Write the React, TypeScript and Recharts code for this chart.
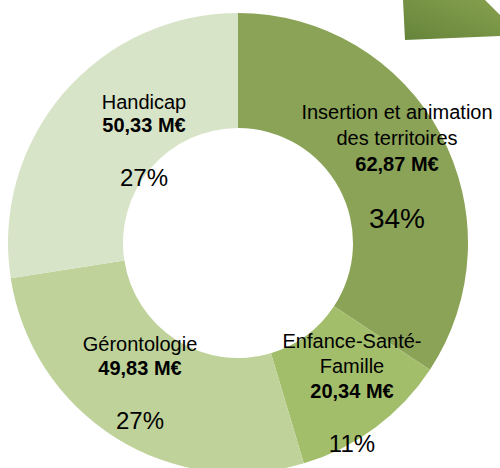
import React from "react";
import { PieChart, Pie, Cell, Customized } from "recharts";

// budget par domaine (M€)
const categories = [
  "Insertion et animation des territoires",
  "Enfance-Santé-Famille",
  "Gérontologie",
  "Handicap",
];
const nameLines = [
  ["Insertion et animation", "des territoires"],
  ["Enfance-Santé-", "Famille"],
  ["Gérontologie"],
  ["Handicap"],
];
const amounts = [62.87, 20.34, 49.83, 50.33];

const COLORS = ["#8ba357", "#a3be6b", "#bed29a", "#d8e4c8"];

// label placement relative to the pie centre: [dx, first line baseline, line step, percent baseline]
const LABEL_POS = [
  [159, -124, 26, -15],
  [114, 105, 25, 209],
  [-98, 108, 24, 186],
  [-94, -134, 23, -57],
];
const PCT_SIZE = [28, 24, 24, 24];

const FONT = "'Liberation Sans', Arial, sans-serif";

const data = categories.map((name, i) => ({ name, value: amounts[i] }));

const fmt = (v: number) => `${v.toFixed(2).replace(".", ",")} M€`;

const renderLabel = ({ cx, cy, index, percent, value }: any) => {
  const [dx, dy, step, pctY] = LABEL_POS[index];
  const x = cx + dx;
  const lines = nameLines[index];
  return (
    <g key={`lbl-${index}`} fontFamily={FONT} fill="#000">
      {lines.map((l, j) => (
        <text key={j} x={x} y={cy + dy + j * step} textAnchor="middle" fontSize={20}>
          {l}
        </text>
      ))}
      <text
        x={x}
        y={cy + dy + lines.length * step}
        textAnchor="middle"
        fontSize={20}
        fontWeight="bold"
      >
        {fmt(value)}
      </text>
      <text x={x} y={cy + pctY} textAnchor="middle" fontSize={PCT_SIZE[index]}>
        {`${Math.round(percent * 100)}%`}
      </text>
    </g>
  );
};

// the little green arrow piece in the top right corner
const CornerShape = () => (
  <g>
    <defs>
      <linearGradient id="arrowGrad" x1="0" y1="1" x2="1" y2="0">
        <stop offset="0%" stopColor="#66843a" />
        <stop offset="100%" stopColor="#85a04e" />
      </linearGradient>
    </defs>
    <polygon points="403,0 485,0 500,15 500,36 405,40" fill="url(#arrowGrad)" />
  </g>
);

export default function App() {
  return (
    <div style={{ position: "absolute", left: 0, top: 0 }}>
      <PieChart width={500} height={468} margin={{ top: 0, right: 0, bottom: 0, left: 0 }}>
        <Customized component={CornerShape} />
        <Pie
          data={data}
          dataKey="value"
          nameKey="name"
          cx={238}
          cy={243}
          innerRadius={115}
          outerRadius={230}
          startAngle={90}
          endAngle={-270}
          stroke="none"
          labelLine={false}
          label={renderLabel}
          isAnimationActive={false}
        >
          {data.map((entry, index) => (
            <Cell key={`cell-${index}`} fill={COLORS[index % COLORS.length]} />
          ))}
        </Pie>
      </PieChart>
    </div>
  );
}
